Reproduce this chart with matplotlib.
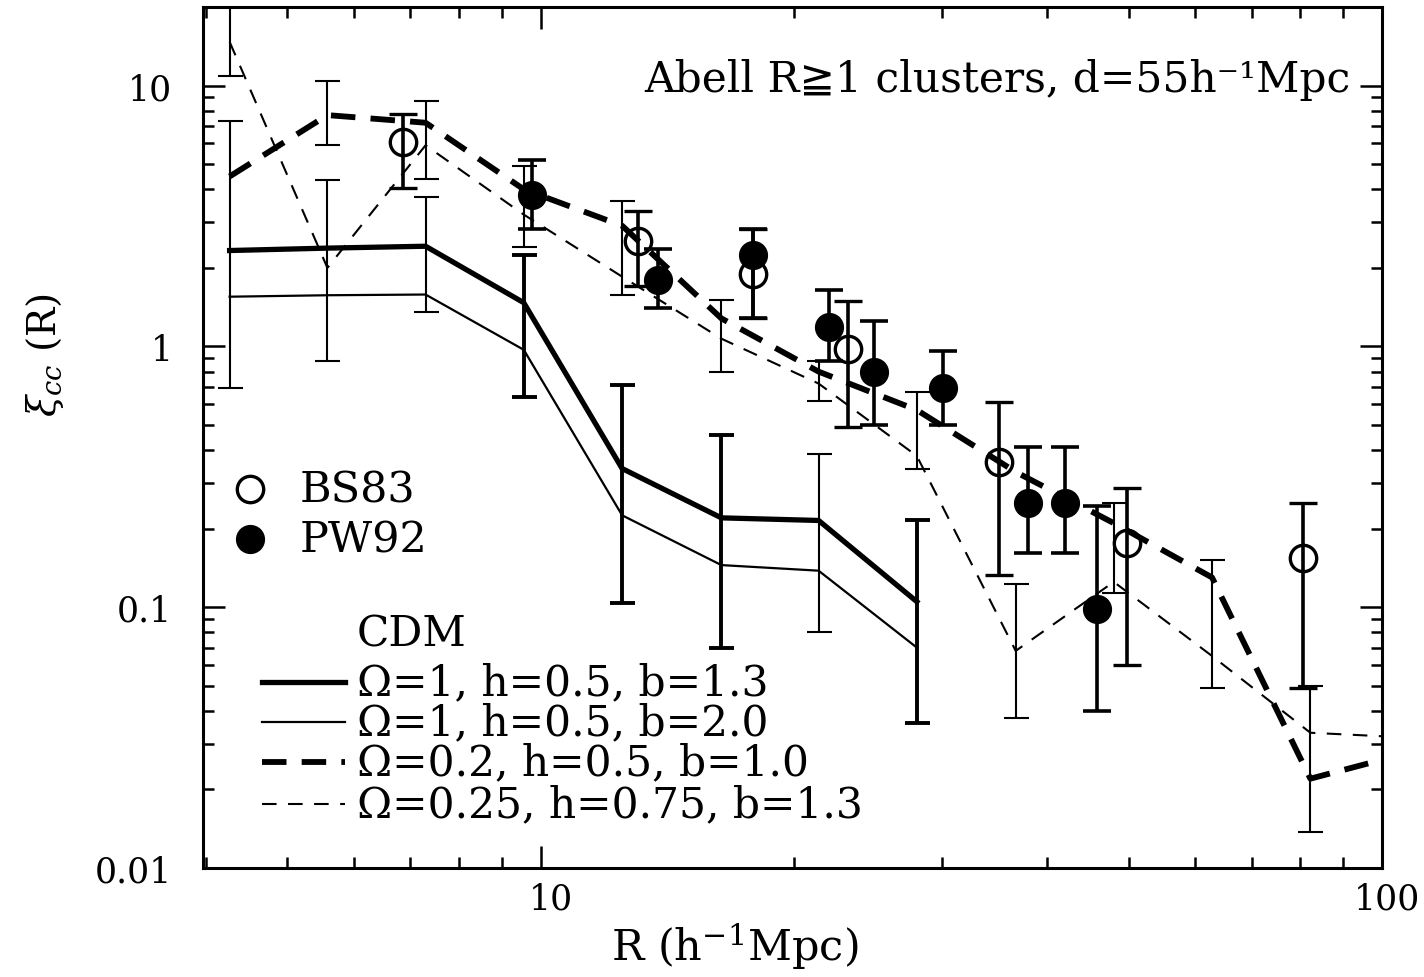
import numpy as np
import matplotlib
matplotlib.use('Agg')
import matplotlib.pyplot as plt
from matplotlib.ticker import FixedLocator, FixedFormatter, LogLocator, NullFormatter
from matplotlib.transforms import ScaledTranslation

plt.rcParams['font.family'] = ['DejaVu Serif', 'DejaVu Sans']
plt.rcParams['mathtext.fontset'] = 'dejavuserif'

# ---------------- data ----------------
R_model = [4.27, 5.58, 7.30, 9.55, 12.5, 16.4, 21.4, 28.0, 36.7, 48.0, 62.8, 82.2, 100.0]
xi_om1_b13 = [2.33, 2.38, 2.42, 1.47, 0.34, 0.22, 0.215, 0.105]
xi_om1_b20 = [1.55, 1.57, 1.58, 0.97, 0.225, 0.145, 0.138, 0.070]
xi_om02 = [4.48, 7.7, 7.2, 4.0, 2.9, 1.28, 0.80, 0.57, 0.33, 0.21, 0.13, 0.022, 0.026]
xi_om025 = [14.7, 2.0, 5.9, 3.2, 1.85, 1.07, 0.72, 0.38, 0.068, 0.125, 0.065, 0.033, 0.032]

# model error bars (thin)
err_thin_R = [4.27, 4.27, 5.58, 5.58, 7.30, 7.30, 9.55, 12.5, 16.4, 21.4, 21.4, 28.0, 36.7, 48.0, 62.8, 82.2]
err_thin_lo = [0.69, 10.9, 5.9, 0.88, 4.4, 1.36, 2.4, 1.57, 0.80, 0.615, 0.080, 0.34, 0.0375, 0.113, 0.049, 0.0137]
err_thin_hi = [7.3, 25.0, 10.4, 4.33, 8.7, 3.75, 4.9, 3.6, 1.5, 0.88, 0.386, 0.67, 0.123, 0.25, 0.152, 0.05]
# model error bars (thick)
err_thick_R = [9.55, 12.5, 16.4, 28.0]
err_thick_lo = [0.64, 0.104, 0.07, 0.036]
err_thick_hi = [2.23, 0.71, 0.456, 0.216]

# observations
bs83_R = [6.87, 13.05, 17.9, 23.2, 35.1, 49.8, 80.6]
bs83_xi = [6.1, 2.53, 1.90, 0.98, 0.36, 0.176, 0.154]
bs83_lo = [4.04, 1.70, 1.28, 0.49, 0.133, 0.060, 0.049]
bs83_hi = [7.8, 3.3, 2.83, 1.49, 0.61, 0.287, 0.251]

pw92_R = [9.78, 13.8, 17.9, 22.0, 24.9, 30.1, 38.0, 42.0, 45.9]
pw92_xi = [3.79, 1.79, 2.23, 1.19, 0.80, 0.69, 0.25, 0.25, 0.098]
pw92_lo = [2.83, 1.40, 1.28, 0.876, 0.50, 0.50, 0.161, 0.161, 0.040]
pw92_hi = [5.16, 2.37, 2.83, 1.64, 1.25, 0.957, 0.41, 0.41, 0.245]

legend_labels = ['Ω=1, h=0.5, b=1.3', 'Ω=1, h=0.5, b=2.0',
                 'Ω=0.2, h=0.5, b=1.0', 'Ω=0.25, h=0.75, b=1.3']
xticks = [10, 100]
xtick_labels = ['10', '100']
yticks = [0.01, 0.1, 1, 10]
ytick_labels = ['0.01', '0.1', '1', '10']

# ---------------- figure ----------------
W, H = 1424, 978
fig = plt.figure(figsize=(W / 100, H / 100), dpi=100)
ax = fig.add_axes([203 / W, 109 / H, 1179 / W, 861 / H])
ax.set_xscale('log')
ax.set_yscale('log')
ax.set_xlim(3.97, 100)
ax.set_ylim(0.01, 20)

styles = [
    dict(lw=3.8, ls='-'),
    dict(lw=1.6, ls='-'),
    dict(lw=4.2, ls=(0, (4.2, 2.6))),
    dict(lw=1.5, ls=(0, (7.0, 5.5))),
]

ax.plot(R_model[:len(xi_om1_b13)], xi_om1_b13, color='k', **styles[0])
ax.plot(R_model[:len(xi_om1_b20)], xi_om1_b20, color='k', **styles[1])
ax.plot(R_model, xi_om02, color='k', **styles[2])
ax.plot(R_model, xi_om025, color='k', **styles[3])

def draw_bars(R, lo, hi, lw, cap):
    lo = np.array(lo); hi = np.array(hi)
    ax.errorbar(R, lo, yerr=[np.zeros_like(lo), hi - lo], fmt='none',
                ecolor='k', elinewidth=lw, capsize=cap, capthick=lw, zorder=3)

draw_bars(err_thin_R, err_thin_lo, err_thin_hi, 1.5, 9)
draw_bars(err_thick_R, err_thick_lo, err_thick_hi, 2.8, 9)

bx = np.array(bs83_xi)
ax.errorbar(bs83_R, bs83_xi, yerr=[bx - np.array(bs83_lo), np.array(bs83_hi) - bx],
            fmt='o', mfc='none', mec='k', mew=2.4, ms=19, ecolor='k',
            elinewidth=2.6, capsize=10, capthick=2.6, zorder=5)
px = np.array(pw92_xi)
ax.errorbar(pw92_R, pw92_xi, yerr=[px - np.array(pw92_lo), np.array(pw92_hi) - px],
            fmt='o', mfc='k', mec='k', ms=20, ecolor='k',
            elinewidth=2.6, capsize=10, capthick=2.6, zorder=5)

# ---------------- legend (drawn in axes fraction) ----------------
tr = ax.transAxes
ax.plot([0.0399], [0.440], 'o', mfc='none', mec='k', mew=2.4, ms=19, transform=tr, clip_on=False)
ax.plot([0.0399], [0.382], 'o', mfc='k', mec='k', ms=20, transform=tr, clip_on=False)
ax.text(0.0823, 0.440, 'BS83', transform=tr, va='center', ha='left', fontsize=31)
ax.text(0.0823, 0.382, 'PW92', transform=tr, va='center', ha='left', fontsize=31)
ax.text(0.1306, 0.272, 'CDM', transform=tr, va='center', ha='left', fontsize=30.5)
rows_y = [0.216, 0.1696, 0.1231, 0.0743]
for lab, yy, st in zip(legend_labels, rows_y, styles):
    ax.plot([0.050, 0.1204], [yy, yy], color='k', transform=tr, **st)
    ax.text(0.1306, yy, lab, transform=tr, va='center', ha='left', fontsize=30.5)

ax.text(0.973, 0.916, 'Abell R≧1 clusters, d=55h⁻¹Mpc', transform=tr,
        va='center', ha='right', fontsize=30.5)

# ---------------- axes styling ----------------
ax.xaxis.set_major_locator(FixedLocator(xticks))
ax.xaxis.set_major_formatter(FixedFormatter(xtick_labels))
ax.xaxis.set_minor_locator(LogLocator(base=10, subs=np.arange(2, 10)))
ax.xaxis.set_minor_formatter(NullFormatter())
ax.yaxis.set_major_locator(FixedLocator(yticks))
ax.yaxis.set_major_formatter(FixedFormatter(ytick_labels))
ax.yaxis.set_minor_locator(LogLocator(base=10, subs=np.arange(2, 10)))
ax.yaxis.set_minor_formatter(NullFormatter())

ax.tick_params(which='both', direction='in', top=True, right=True, width=1.8, colors='k')
ax.tick_params(which='major', length=16, labelsize=25)
ax.tick_params(which='minor', length=8)
ax.tick_params(axis='y', which='major', pad=22)
ax.tick_params(axis='x', which='major', pad=10)
for s in ax.spines.values():
    s.set_linewidth(2.2)

fig.canvas.draw()
for lab, dx in zip(ax.get_xticklabels(), [10, 5]):
    lab.set_transform(lab.get_transform() + ScaledTranslation(dx / 100, 0, fig.dpi_scale_trans))

ax.set_xlabel('R (h$^{-1}$Mpc)', fontsize=31)
ax.xaxis.label.set_va('center')
ax.xaxis.set_label_coords(0.451, -0.0906)
ax.set_ylabel(r'$\xi_{cc}$ (R)', fontsize=28)
ax.yaxis.label.set_va('center')
ax.yaxis.set_label_coords(-0.134, 0.597)

fig.savefig('out.png', dpi=100, facecolor='white')
